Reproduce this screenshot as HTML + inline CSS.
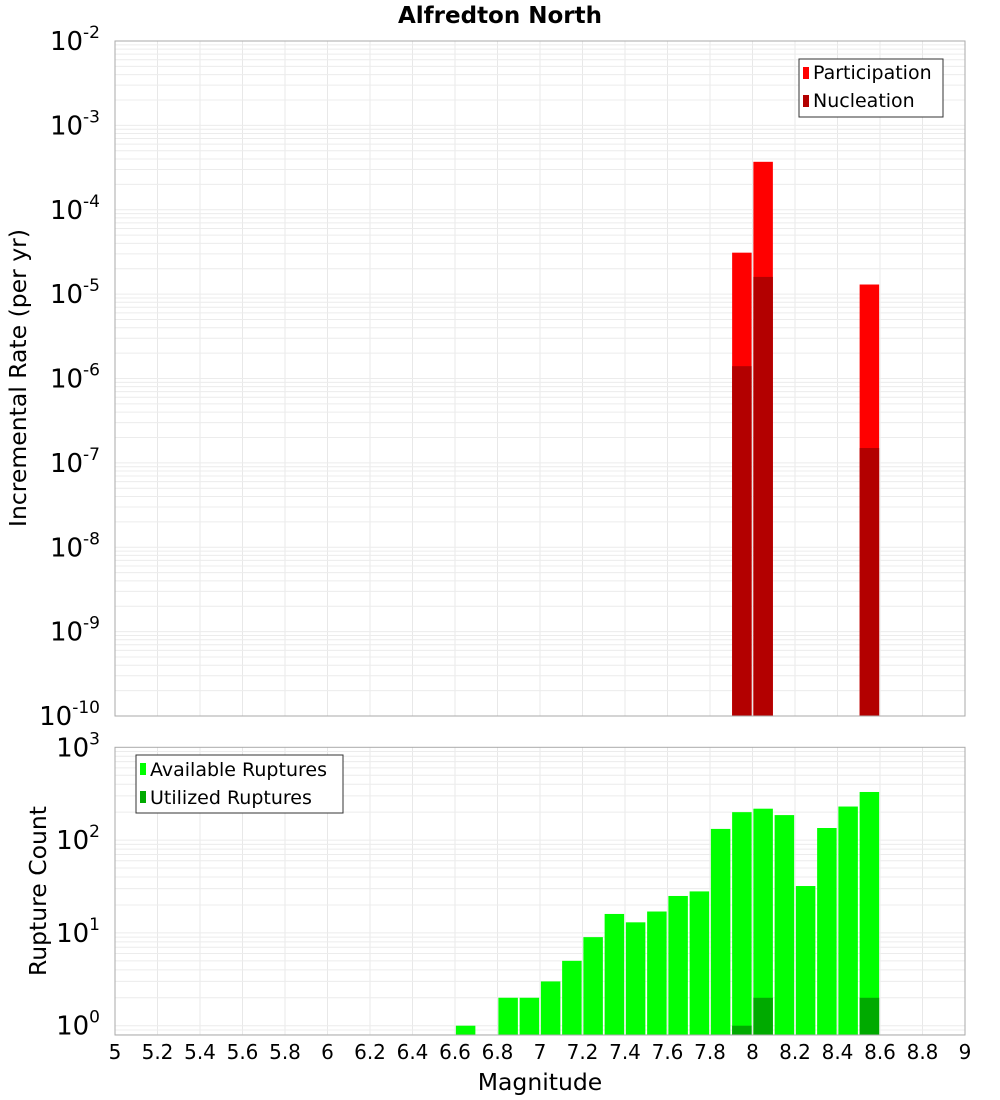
<!DOCTYPE html>
<html><head><meta charset="utf-8"><style>
body{margin:0;background:#fff;font-family:"DejaVu Sans","Liberation Sans",sans-serif;}
svg{display:block}
</style></head><body>
<svg id="chart" width="1000" height="1100" xmlns="http://www.w3.org/2000/svg">
<text x="500" y="23" text-anchor="middle" font-size="23" font-weight="bold">Alfredton North</text>
<g id="grid"></g>
<g id="bars"></g>
<rect x="115" y="41" width="850" height="675" fill="none" stroke="#aaa"/>
<rect x="115" y="747.3" width="850" height="287.7" fill="none" stroke="#aaa"/>
<g id="labels" font-size="20"></g>
<text transform="translate(26,378) rotate(-90)" text-anchor="middle" font-size="23.5">Incremental Rate (per yr)</text>
<text transform="translate(46,891) rotate(-90)" text-anchor="middle" font-size="23.5">Rupture Count</text>
<text x="540" y="1090" text-anchor="middle" font-size="23.5">Magnitude</text>
<g>
<rect x="799" y="59" width="144" height="58" fill="#fff" stroke="#333"/>
<rect x="803" y="67" width="6" height="12" fill="#ff0000"/>
<text x="813" y="79" font-size="19">Participation</text>
<rect x="803" y="95" width="6" height="12" fill="#b30000"/>
<text x="813" y="107" font-size="19">Nucleation</text>
</g>
<g>
<rect x="136" y="755" width="207" height="58" fill="#fff" stroke="#333"/>
<rect x="140" y="763" width="6" height="12" fill="#00ff00"/>
<text x="150" y="776" font-size="19">Available Ruptures</text>
<rect x="140" y="791" width="6" height="12" fill="#00aa00"/>
<text x="150" y="804" font-size="19">Utilized Ruptures</text>
</g>
</svg>
<script>
const rateMags=[7.95,8.05,8.55];
const participation=[3.1e-5,3.7e-4,1.3e-5];
const nucleation=[1.4e-6,1.6e-5,1.5e-7];
const countMags=[6.65,6.85,6.95,7.05,7.15,7.25,7.35,7.45,7.55,7.65,7.75,7.85,7.95,8.05,8.15,8.25,8.35,8.45,8.55];
const available=[1,2,2,3,5,9,16,13,17,25,28,132,200,218,186,32,135,230,330];
const utilMags=[7.95,8.05,8.55];
const utilized=[1,2,2];
const xTicks=[5,5.2,5.4,5.6,5.8,6,6.2,6.4,6.6,6.8,7,7.2,7.4,7.6,7.8,8,8.2,8.4,8.6,8.8,9];
const topExp=[-2,-3,-4,-5,-6,-7,-8,-9,-10];
const botExp=[3,2,1,0];
const NS='http://www.w3.org/2000/svg';
const X=m=>115+(m-5)*212.5;
const YT=v=>41+(-2-Math.log10(v))*84.375;
const YB=v=>747.3+(3-Math.log10(v))*92.8;
const grid=document.getElementById('grid'),bars=document.getElementById('bars'),labels=document.getElementById('labels');
function mk(tag,attrs,parent){const e=document.createElementNS(NS,tag);for(const k in attrs)e.setAttribute(k,attrs[k]);parent.appendChild(e);return e;}
for(const t of xTicks){
 const l1=mk('line',{x1:X(t),x2:X(t),y1:41,y2:716,stroke:'#e8e8e8'},grid);
 
 
 const l2=mk('line',{x1:X(t),x2:X(t),y1:747.3,y2:1035,stroke:'#e8e8e8'},grid);
 
 
 const tx=mk('text',{x:X(t),y:1059,'text-anchor':'middle'},labels);
 tx.textContent=String(t);
 
 
}
for(let e=-10;e<-2;e++)for(let k=1;k<10;k++){const y=YT(k*Math.pow(10,e));
 const l=mk('line',{x1:115,x2:965,y1:y,y2:y,stroke:'#ececec'},grid);
 
 }
for(let e=-1;e<3;e++)for(let k=1;k<10;k++){const y=YB(k*Math.pow(10,e));if(y>1035)continue;
 const l=mk('line',{x1:115,x2:965,y1:y,y2:y,stroke:'#ececec'},grid);
 
 }
function expLabel(x,y,e,name){const t=mk('text',{x:x,y:y,'text-anchor':'end','font-size':'26'},labels);
 
 
 t.textContent='10';const s=mk('tspan',{dy:-12,'font-size':'17'},t);s.textContent=String(e);}
for(const e of topExp)expLabel(100,YT(Math.pow(10,e))+9,e,'top-y-tick-label');
for(const e of botExp)expLabel(100,YB(Math.pow(10,e))+9,e,'bottom-y-tick-label');
const bw=19.5;
function bar(m,y0,y1,fill,name){const r=mk('rect',{x:X(m)-bw/2,y:y0,width:bw,height:Math.max(0,y1-y0),fill:fill},bars);
 
 }
rateMags.forEach((m,i)=>bar(m,YT(participation[i]),716,'#ff0000','participation-bar'));
rateMags.forEach((m,i)=>bar(m,YT(nucleation[i]),716,'#b30000','nucleation-bar'));
countMags.forEach((m,i)=>bar(m,YB(available[i]),1035,'#00ff00','available-bar'));
utilMags.forEach((m,i)=>bar(m,YB(utilized[i]),1035,'#00aa00','utilized-bar'));
</script>
</body></html>
